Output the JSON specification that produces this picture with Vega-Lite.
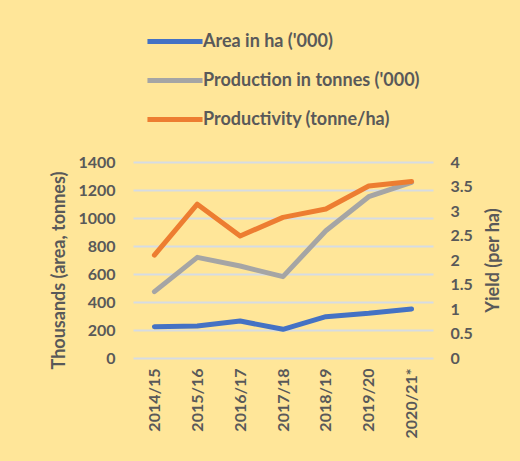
{
  "$schema": "https://vega.github.io/schema/vega-lite/v6.json",
  "autosize": {"type": "none"},
  "width": 300,
  "height": 196,
  "padding": {"left": 133, "top": 162, "right": 87, "bottom": 103},
  "background": "#FFE699",
  "config": {
    "view": {"stroke": null},
    "font": "Lato",
    "axis": {"labelFont": "Lato", "labelFontWeight": "bold", "labelFontSize": 16, "labelColor": "#595959", "titleFont": "Lato", "titleFontWeight": "bold", "titleFontSize": 18, "titleColor": "#595959", "domain": false, "ticks": false},
    "legend": {"labelFont": "Lato", "labelFontWeight": "bold", "labelFontSize": 18, "labelColor": "#595959", "labelLimit": 0}
  },
  "data": {"values": [
    {"year": "2014/15", "series": "Area in ha ('000)", "value": 224},
    {"year": "2015/16", "series": "Area in ha ('000)", "value": 228},
    {"year": "2016/17", "series": "Area in ha ('000)", "value": 264},
    {"year": "2017/18", "series": "Area in ha ('000)", "value": 205},
    {"year": "2018/19", "series": "Area in ha ('000)", "value": 295},
    {"year": "2019/20", "series": "Area in ha ('000)", "value": 319},
    {"year": "2020/21*", "series": "Area in ha ('000)", "value": 350},
    {"year": "2014/15", "series": "Production in tonnes ('000)", "value": 474},
    {"year": "2015/16", "series": "Production in tonnes ('000)", "value": 719},
    {"year": "2016/17", "series": "Production in tonnes ('000)", "value": 657},
    {"year": "2017/18", "series": "Production in tonnes ('000)", "value": 581},
    {"year": "2018/19", "series": "Production in tonnes ('000)", "value": 909},
    {"year": "2019/20", "series": "Production in tonnes ('000)", "value": 1152},
    {"year": "2020/21*", "series": "Production in tonnes ('000)", "value": 1255},
    {"year": "2014/15", "series": "Productivity (tonne/ha)", "value": 2.10},
    {"year": "2015/16", "series": "Productivity (tonne/ha)", "value": 3.14},
    {"year": "2016/17", "series": "Productivity (tonne/ha)", "value": 2.49},
    {"year": "2017/18", "series": "Productivity (tonne/ha)", "value": 2.87},
    {"year": "2018/19", "series": "Productivity (tonne/ha)", "value": 3.04},
    {"year": "2019/20", "series": "Productivity (tonne/ha)", "value": 3.51},
    {"year": "2020/21*", "series": "Productivity (tonne/ha)", "value": 3.60}
  ]},
  "encoding": {
    "x": {"field": "year", "type": "ordinal", "sort": null, "axis": {"title": null, "labelAngle": -90, "labelPadding": 10, "grid": false}},
    "color": {
      "field": "series", "type": "nominal",
      "scale": {"domain": ["Area in ha ('000)", "Production in tonnes ('000)", "Productivity (tonne/ha)"], "range": ["#4472C4", "#A5A5A5", "#ED7D31"]},
      "legend": {"title": null, "orient": "none", "legendX": 20.5, "legendY": -142, "symbolType": "M-1.45,0H1.45", "symbolSize": 1444, "symbolStrokeWidth": 5, "symbolFillColor": "transparent", "labelOffset": 6.5, "rowPadding": 7}
    }
  },
  "layer": [
    {
      "transform": [{"filter": "datum.series !== 'Productivity (tonne/ha)'"}],
      "mark": {"type": "line", "strokeWidth": 5, "strokeCap": "round", "strokeJoin": "round"},
      "encoding": {
        "y": {"field": "value", "type": "quantitative", "scale": {"domain": [0, 1400], "nice": false}, "axis": {"title": "Thousands (area, tonnes)", "format": "d", "values": [0, 200, 400, 600, 800, 1000, 1200, 1400], "labelPadding": 18, "titlePadding": 9, "titleY": 108, "gridColor": "#D6DCE4", "gridWidth": 2}}
      }
    },
    {
      "transform": [{"filter": "datum.series === 'Productivity (tonne/ha)'"}],
      "mark": {"type": "line", "strokeWidth": 5, "strokeCap": "round", "strokeJoin": "round"},
      "encoding": {
        "y": {"field": "value", "type": "quantitative", "scale": {"domain": [0, 4], "nice": false}, "axis": {"orient": "right", "title": "Yield (per ha)", "titleAngle": -90, "titleBaseline": "top", "format": "~g", "values": [0, 0.5, 1, 1.5, 2, 2.5, 3, 3.5, 4], "labelPadding": 17, "titlePadding": 12, "grid": false}}
      }
    }
  ],
  "resolve": {"scale": {"y": "independent"}}
}
